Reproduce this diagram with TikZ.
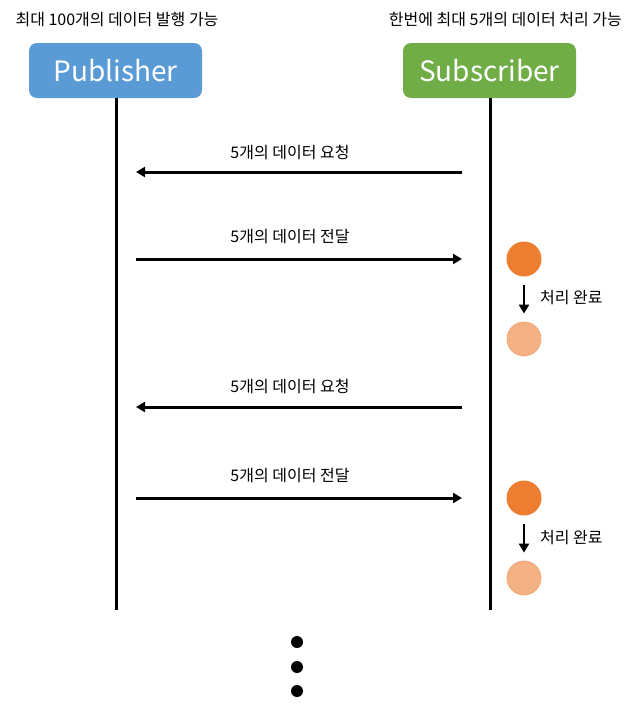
\documentclass[tikz,border=0pt]{standalone}
\usepackage{fontspec}
\setmainfont{Noto Sans CJK KR}
\usetikzlibrary{arrows.meta}
\definecolor{pubblue}{HTML}{5B9BD5}
\definecolor{subgreen}{HTML}{70AD47}
\definecolor{dorange}{HTML}{ED7D31}
\definecolor{lorange}{HTML}{F4B183}
\definecolor{lorangeedge}{HTML}{F1A97A}
\begin{document}
\begin{tikzpicture}[x=1pt,y=-1pt,
  actor/.style={rounded corners=8pt,minimum width=173pt,minimum height=55pt,inner sep=0pt,text=white,font=\fontsize{28}{32}\selectfont},
  lab/.style={font=\fontsize{16}{19}\selectfont,inner sep=0pt},
  life/.style={line width=3pt},
  msg/.style={line width=3pt,-{Triangle[length=9pt,width=10pt]}},
  done/.style={line width=2.6pt,-{Triangle[length=9pt,width=10pt]}},
  full/.style={circle,fill=dorange,minimum size=35pt,inner sep=0pt},
  empty/.style={circle,fill=lorange,draw=lorangeedge,line width=0.8pt,minimum size=34pt,inner sep=0pt},
  dot/.style={circle,fill=black,minimum size=12pt,inner sep=0pt}]
\useasboundingbox (0,0) rectangle (627,715);
\node[lab] (tl) at (117,20) {최대 100개의 데이터 발행 가능};
\node[lab,anchor=east] (tr) at (622,20) {한번에 최대 5개의 데이터 처리 가능};
\node[actor,fill=pubblue] (pub) at (115.5,70.5) {Publisher};
\node[actor,fill=subgreen] (sub) at (489.5,70.5) {Subscriber};
\coordinate (pe) at (116,610);
\coordinate (se) at (490,610);
\draw[life] (pub.south -| pe) -- (pe);
\draw[life] (sub.south -| se) -- (se);
% messages
\coordinate (s1) at (462,172); \coordinate (p1) at (136,172);
\coordinate (p2) at (136,259); \coordinate (s2) at (462,259);
\coordinate (s3) at (462,407); \coordinate (p3) at (136,407);
\coordinate (p4) at (136,498); \coordinate (s4) at (462,498);
\draw[msg] (s1) -- (p1);
\draw[msg] (p2) -- (s2);
\draw[msg] (s3) -- (p3);
\draw[msg] (p4) -- (s4);
\node[lab] (l1) at (290,152) {5개의 데이터 요청};
\node[lab] (l2) at (290,237) {5개의 데이터 전달};
\node[lab] (l3) at (290,386) {5개의 데이터 요청};
\node[lab] (l4) at (290,476) {5개의 데이터 전달};
% processing
\node[full] (f1) at (524,259) {};
\node[empty] (e1) at (524,339) {};
\draw[done] ([yshift=-8.5pt]f1.south) -- ([yshift=8pt]e1.north);
\node[lab,anchor=west] (d1) at (540,298) {처리 완료};
\node[full] (f2) at (524,498) {};
\node[empty] (e2) at (524,578) {};
\draw[done] ([yshift=-8.5pt]f2.south) -- ([yshift=8pt]e2.north);
\node[lab,anchor=west] (d2) at (540,538) {처리 완료};
% dots
\node[dot] (o1) at (297,642) {};
\node[dot] (o2) at (297,667) {};
\node[dot] (o3) at (297,691) {};
\end{tikzpicture}
\end{document}
